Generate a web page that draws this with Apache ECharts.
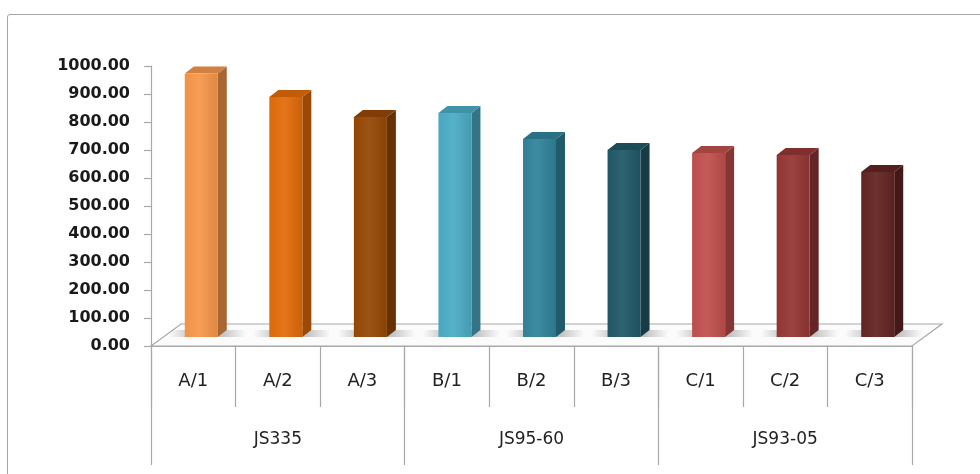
<!DOCTYPE html>
<html>
<head>
<meta charset="utf-8">
<script src="https://cdn.jsdelivr.net/npm/echarts@6/dist/echarts.min.js"></script>
<style>
  html, body { margin: 0; padding: 0; background: #fff; }
  #frame { position: absolute; left: 7px; top: 14px; right: -4px; bottom: -4px;
           border: 1.5px solid #a6a6a6; border-radius: 3px; }
  #chart { position: absolute; left: 0; top: 0; width: 980px; height: 474px; }
</style>
</head>
<body>
<div id="frame"></div>
<div id="chart"></div>
<script>
// Samples and their variety groups
const categories = ['A/1', 'A/2', 'A/3', 'B/1', 'B/2', 'B/3', 'C/1', 'C/2', 'C/3'];
const groups = ['JS335', 'JS95-60', 'JS93-05'];
const values = [941, 857, 786, 800, 707, 668, 657, 650, 589];
const yTicks = [0, 100, 200, 300, 400, 500, 600, 700, 800, 900, 1000];

// Face colours for each column
const palette = ['#F7974A', '#E36C0A', '#974806', '#4BACC6', '#31849B', '#215968', '#C0504D', '#953735', '#632523'];

function shade(hex, f) {
  const n = parseInt(hex.slice(1), 16);
  const r = (n >> 16) & 255, g = (n >> 8) & 255, b = n & 255;
  const c = v => Math.max(0, Math.min(255, Math.round(f >= 1 ? v + (255 - v) * (f - 1) : v * f)));
  return 'rgb(' + c(r) + ',' + c(g) + ',' + c(b) + ')';
}

const chart = echarts.init(document.getElementById('chart'));

// 3D depth parameters of the floor and the columns
const FLOOR_DX = 30, FLOOR_DY = 22;
const BAR_W = 33, BAR_DX = 9, BAR_DY = 7, BAR_OX = 8, BAR_OY = 9;

function renderFloor(params, api) {
  const cs = params.coordSys;
  const x0 = cs.x, x1 = cs.x + cs.width;
  const y = api.coord([0, 0])[1];
  return {
    type: 'polygon',
    shape: { points: [[x0, y], [x0 + FLOOR_DX, y - FLOOR_DY], [x1 + FLOOR_DX, y - FLOOR_DY], [x1, y]] },
    style: { fill: '#fbfbfb', stroke: '#a8a8a8', lineWidth: 1.2 }
  };
}

function renderBar(params, api) {
  const i = api.value(0), v = api.value(1);
  const base = api.coord([i, 0]);
  const top = api.coord([i, v]);
  const cx = base[0] + BAR_OX;
  const yb = base[1] - BAR_OY;
  const yt = top[1] - BAR_OY;
  const xl = cx - BAR_W / 2, xr = cx + BAR_W / 2;
  const col = palette[i];
  return {
    type: 'group',
    children: [
      { // soft shadow on the floor
        type: 'rect',
        shape: { x: xl - 16, y: yb - 7, width: BAR_W + 44, height: 7 },
        style: {
          fill: new echarts.graphic.LinearGradient(0, 0, 1, 0, [
            { offset: 0, color: 'rgba(90,90,90,0)' },
            { offset: 0.3, color: 'rgba(90,90,90,0.35)' },
            { offset: 0.7, color: 'rgba(90,90,90,0.35)' },
            { offset: 1, color: 'rgba(90,90,90,0)' }
          ])
        }
      },
      { // right side face
        type: 'polygon',
        shape: { points: [[xr, yt], [xr + BAR_DX, yt - BAR_DY], [xr + BAR_DX, yb - BAR_DY], [xr, yb]] },
        style: { fill: shade(col, 0.68) }
      },
      { // top face
        type: 'polygon',
        shape: { points: [[xl, yt], [xl + BAR_DX, yt - BAR_DY], [xr + BAR_DX, yt - BAR_DY], [xr, yt]] },
        style: { fill: shade(col, 0.85) }
      },
      { // front face
        type: 'rect',
        shape: { x: xl, y: yt, width: BAR_W, height: yb - yt },
        style: {
          fill: new echarts.graphic.LinearGradient(0, 0, 1, 0, [
            { offset: 0, color: shade(col, 0.97) },
            { offset: 0.45, color: shade(col, 1.06) },
            { offset: 1, color: shade(col, 0.9) }
          ])
        }
      }
    ]
  };
}

const labelFont = 'DejaVu Sans';

chart.setOption({
  animation: false,
  grid: { left: 151, right: 68, top: 66, bottom: 128 },
  xAxis: [
    {
      type: 'category',
      data: categories,
      position: 'bottom',
      axisLine: { show: true, lineStyle: { color: '#a8a8a8', width: 1.2 } },
      axisTick: { show: true, interval: 0, length: 61, lineStyle: { color: '#a8a8a8', width: 1.2 } },
      axisLabel: { interval: 0, margin: 26, color: '#222', fontFamily: labelFont, fontSize: 18 }
    },
    {
      type: 'category',
      data: groups,
      position: 'bottom',
      axisLine: { show: false },
      axisTick: { show: true, interval: 0, length: 119, lineStyle: { color: '#a8a8a8', width: 1.2 } },
      axisLabel: { interval: 0, margin: 85, color: '#222', fontFamily: labelFont, fontSize: 17 }
    }
  ],
  yAxis: {
    type: 'value',
    min: yTicks[0],
    max: yTicks[yTicks.length - 1],
    interval: yTicks[1] - yTicks[0],
    axisLine: { show: true, lineStyle: { color: '#a8a8a8', width: 1.2 } },
    axisTick: { show: true, length: 7, lineStyle: { color: '#a8a8a8', width: 1.2 } },
    splitLine: { show: false },
    axisLabel: {
      margin: 21, color: '#1a1a1a', fontFamily: labelFont, fontWeight: 'bold', fontSize: 16,
      formatter: v => v.toFixed(2)
    }
  },
  series: [
    {
      type: 'custom',
      renderItem: renderFloor,
      data: [[0, 0]],
      z: 1,
      silent: true
    },
    {
      type: 'custom',
      renderItem: renderBar,
      data: values.map((v, i) => [i, v]),
      encode: { x: 0, y: 1 },
      z: 2
    }
  ]
});
</script>
</body>
</html>
